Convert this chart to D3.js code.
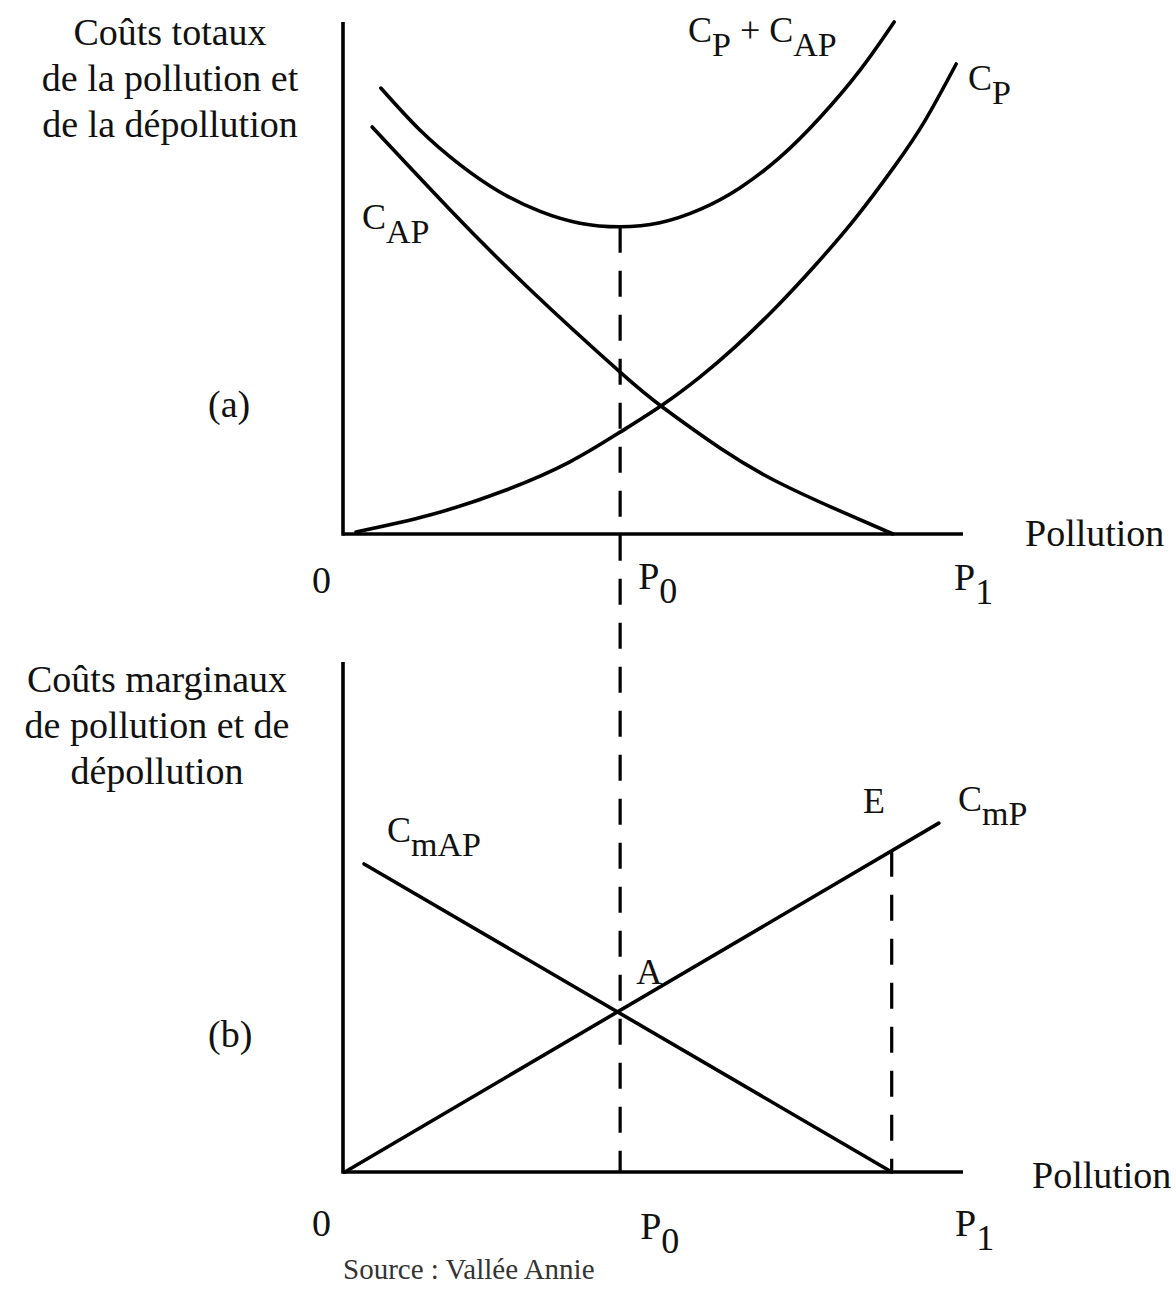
<!DOCTYPE html>
<html>
<head>
<meta charset="utf-8">
<script src="https://cdn.jsdelivr.net/npm/d3@7"></script>
<style>
  body { margin: 0; background: #fff; }
  text { font-family: "Liberation Serif", "Times New Roman", serif; fill: #111; }
</style>
</head>
<body>
<div id="chart"></div>
<script>
// values (x = pollution, y = cost, both on a 0-100 scale)
const P0 = 44.7, P1 = 100, E = 88.5;

// panel (a) : total costs
const capX = [4.7, 17.3, 30.2, 44.7, 51.5, 60.8, 69.7, 79.4, 88.7];
const capY = [79.5, 63.3, 47.7, 31.6, 24.8, 16.8, 10.4, 4.9, 0];
const cpX  = [2.1, 14.0, 26.3, 36.6, 44.7, 51.5, 57.6, 63.2, 69.7, 76.1, 82.6, 89.0, 93.9, 98.9];
const cpY  = [0.4, 3.7, 8.6, 14.1, 19.9, 25.2, 30.7, 36.5, 44.1, 52.4, 61.6, 71.9, 80.8, 91.8];
const sumX = [6.1, 12.4, 18.9, 25.3, 31.8, 38.2, 44.7, 51.1, 57.6, 64.0, 70.5, 76.9, 83.4, 88.9];
const sumY = [87.1, 78.9, 72.1, 66.8, 63.0, 60.7, 60.0, 60.8, 63.4, 67.6, 73.6, 81.3, 90.6, 100];

// panel (b) : marginal costs
const cmapX = [3.4, 88.5];
const cmapY = [60.4, 0];
const cmpX  = [0.3, 96.1];
const cmpY  = [0, 68.4];

// axis titles
const titleA = ["Coûts totaux", "de la pollution et", "de la dépollution"];
const titleB = ["Coûts marginaux", "de pollution et de", "dépollution"];

let width = 1176, height = 1289;

let svg = d3.select("#chart")
    .append("svg")
    .attr("width", width)
    .attr("height", height);

let x = d3.scaleLinear().domain([0, 100]).range([343, 963]);
let yA = d3.scaleLinear().domain([0, 100]).range([534, 22]);
let yB = d3.scaleLinear().domain([0, 100]).range([1172, 662]);

function pts(xs, ys) { return xs.map((v, i) => [v, ys[i]]); }

function curve(g, data, y, shape) {
  g.append("path")
    .datum(data)
    .attr("fill", "none")
    .attr("stroke", "#000")
    .attr("stroke-width", 3.6)
    .attr("stroke-linecap", "round")
    .attr("stroke-linejoin", "round")
    .attr("d", d3.line()
      .x(d => x(d[0]))
      .y(d => y(d[1]))
      .curve(shape));
}

function axes(g, y) {
  g.append("line")
    .attr("x1", x(0)).attr("x2", x(0))
    .attr("y1", y(100)).attr("y2", y(0) + 1.7)
    .attr("stroke", "#000").attr("stroke-width", 3.6);
  g.append("line")
    .attr("x1", x(0)).attr("x2", x(100))
    .attr("y1", y(0)).attr("y2", y(0))
    .attr("stroke", "#000").attr("stroke-width", 3.6);
}

// text with a subscript
function label(g, px, py, main, sub, size) {
  size = size || 36;
  let t = g.append("text").attr("x", px).attr("y", py).style("font-size", size + "px");
  t.append("tspan").text(main);
  if (sub) t.append("tspan").attr("dy", 14).style("font-size", (size - 2) + "px").text(sub);
  return t;
}

function title(g, lines, cx, y0) {
  g.selectAll("text.title")
    .data(lines)
    .enter()
    .append("text")
    .attr("x", cx)
    .attr("y", (d, i) => y0 + i * 46)
    .attr("text-anchor", "middle")
    .style("font-size", "38px")
    .text(d => d);
}

let ga = svg.append("g");
let gb = svg.append("g");

// dashed guides
svg.append("line")
  .attr("x1", x(P0)).attr("x2", x(P0))
  .attr("y1", yA(d3.min(sumY))).attr("y2", yB(0))
  .attr("stroke", "#000").attr("stroke-width", 3.2)
  .attr("stroke-dasharray", "26,18");

let eY = cmpY[0] + (cmpY[1] - cmpY[0]) * (E - cmpX[0]) / (cmpX[1] - cmpX[0]);
gb.append("line")
  .attr("x1", x(E)).attr("x2", x(E))
  .attr("y1", yB(eY)).attr("y2", yB(0))
  .attr("stroke", "#000").attr("stroke-width", 3.2)
  .attr("stroke-dasharray", "26,18");

// panel (a)
axes(ga, yA);
curve(ga, pts(capX, capY), yA, d3.curveNatural);
curve(ga, pts(cpX, cpY), yA, d3.curveNatural);
curve(ga, pts(sumX, sumY), yA, d3.curveNatural);

title(ga, titleA, 170, 45);
label(ga, 208, 417, "(a)", null, 38);
let s = label(ga, 688, 42, "C", "P");
s.append("tspan").attr("dy", -14).text(" + C");
s.append("tspan").attr("dy", 14).style("font-size", "34px").text("AP");
label(ga, 968, 90, "C", "P");
label(ga, 362, 229, "C", "AP");
label(ga, 1025, 546, "Pollution", null, 38);
label(ga, 312, 593, "0", null, 38);
label(ga, x(P0) + 18, 589, "P", "0", 38);
label(ga, x(P1) - 9, 590, "P", "1", 38);

// panel (b)
axes(gb, yB);
curve(gb, pts(cmapX, cmapY), yB, d3.curveLinear);
curve(gb, pts(cmpX, cmpY), yB, d3.curveLinear);

title(gb, titleB, 157, 692);
label(gb, 208, 1047, "(b)", null, 38);
label(gb, 387, 842, "C", "mAP");
label(gb, 863, 813, "E", null, 36);
label(gb, 958, 811, "C", "mP");
label(gb, x(P0) + 16, 984, "A", null, 36);
label(gb, 1032, 1188, "Pollution", null, 38);
label(gb, 312, 1236, "0", null, 38);
label(gb, x(P0) + 20, 1239, "P", "0", 38);
label(gb, x(P1) - 8, 1236, "P", "1", 38);

svg.append("text")
  .attr("x", 343).attr("y", 1279)
  .style("font-size", "29px")
  .style("fill", "#333")
  .text("Source : Vallée Annie");
</script>
</body>
</html>
